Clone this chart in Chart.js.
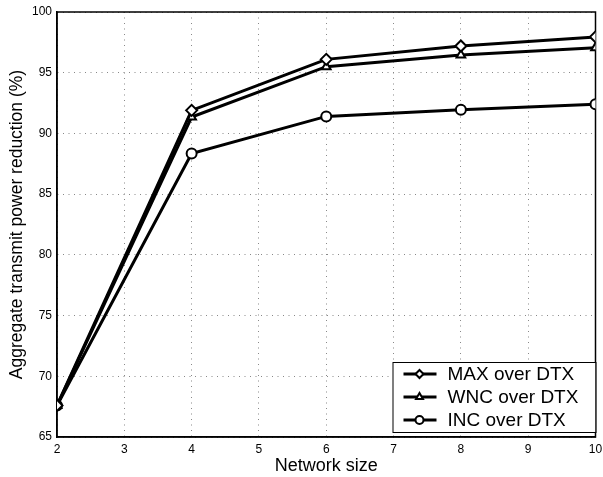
<!DOCTYPE html>
<html>
<head>
<meta charset="utf-8">
<script src="https://cdn.jsdelivr.net/npm/chart.js@4/dist/chart.umd.min.js"></script>
<style>
  html, body { margin: 0; padding: 0; background: #fff; }
  #wrap { width: 603px; height: 477px; }
</style>
</head>
<body>
<div id="wrap"><canvas id="chart" width="603" height="477"></canvas></div>
<script>
const networkSize = [2, 4, 6, 8, 10];
const maxOverDtx = [67.6, 91.9, 96.1, 97.2, 97.95];
const wncOverDtx = [67.6, 91.35, 95.5, 96.45, 97.05];
const incOverDtx = [67.6, 88.35, 91.4, 91.95, 92.4];
const seriesNames = ["MAX over DTX", "WNC over DTX", "INC over DTX"];
const markers = ["rectRot", "triangle", "circle"];

const font = "Liberation Sans, Arial, Helvetica, sans-serif";

function toPoints(vals) {
  return networkSize.map((x, i) => ({ x: x, y: vals[i] }));
}

function series(name, vals, marker) {
  return {
    label: name,
    data: toPoints(vals),
    borderColor: "#000",
    borderWidth: 3,
    pointStyle: marker,
    pointRadius: marker === "rectRot" ? 5.5 : 5,
    pointBorderWidth: 2,
    pointBackgroundColor: "#fff",
    pointBorderColor: "#000",
    tension: 0,
  };
}

// MATLAB-style boxed legend in the lower right corner
const boxLegend = {
  id: "boxLegend",
  afterDraw(chart) {
    const ctx = chart.ctx;
    const a = chart.chartArea;
    const w = 203, h = 70;
    const x0 = a.right - w, y0 = a.bottom - h - 5;
    ctx.save();
    ctx.fillStyle = "#fff";
    ctx.fillRect(x0, y0, w, h);
    ctx.strokeStyle = "#000";
    ctx.lineWidth = 1;
    ctx.strokeRect(x0 + 0.5, y0 + 0.5, w, h);
    ctx.font = "19px " + font;
    ctx.textBaseline = "middle";
    chart.data.datasets.forEach((ds, i) => {
      const y = y0 + 12 + i * 23;
      ctx.strokeStyle = "#000";
      ctx.lineWidth = 3;
      ctx.beginPath();
      ctx.moveTo(x0 + 11, y);
      ctx.lineTo(x0 + 44, y);
      ctx.stroke();
      ctx.fillStyle = "#fff";
      ctx.strokeStyle = "#000";
      ctx.lineWidth = 2;
      Chart.helpers.drawPoint(ctx, { pointStyle: ds.pointStyle, radius: 4, borderWidth: 2, rotation: 0 }, x0 + 27, y);
      ctx.fillStyle = "#000";
      ctx.fillText(ds.label, x0 + 55, y + 1);
    });
    ctx.restore();
  }
};

new Chart(document.getElementById("chart"), {
  type: "line",
  data: {
    datasets: [
      series(seriesNames[0], maxOverDtx, markers[0]),
      series(seriesNames[1], wncOverDtx, markers[1]),
      series(seriesNames[2], incOverDtx, markers[2]),
    ],
  },
  options: {
    responsive: false,
    animation: false,
    layout: { padding: { top: 12, right: 3, left: 7, bottom: 0 } },
    plugins: { legend: { display: false }, tooltip: { enabled: false } },
    scales: {
      x: {
        type: "linear",
        min: 2,
        max: 10,
        ticks: { stepSize: 1, color: "#000", font: { family: font, size: 12 }, padding: 5 },
        grid: { color: "#888", lineWidth: 1, drawTicks: false },
        border: { color: "#000", width: 1.5, dash: [1, 4.5] },
        title: { display: true, text: "Network size", color: "#000", font: { family: font, size: 18 }, padding: { top: 0, bottom: 0 } },
        afterFit(scale) {
          scale.height = 40;
          scale.paddingRight = 0;
          scale.paddingLeft = 0;
        },
      },
      y: {
        min: 65,
        max: 100,
        ticks: { stepSize: 5, color: "#000", font: { family: font, size: 12 }, padding: 5 },
        grid: { color: "#888", lineWidth: 1, drawTicks: false },
        border: { color: "#000", width: 1.5, dash: [1, 4.5] },
        title: { display: true, text: "Aggregate transmit power reduction (%)", color: "#000", font: { family: font, size: 17.5 }, padding: { top: 0, bottom: 0 } },
        afterFit(scale) {
          scale.width = 50;
          scale.paddingTop = 0;
          scale.paddingBottom = 0;
        },
      },
    },
  },
  plugins: [boxLegend, {
    id: "frame",
    beforeDatasetsDraw(chart) {
      const a = chart.chartArea, ctx = chart.ctx;
      ctx.save();
      ctx.strokeStyle = "#000";
      ctx.lineWidth = 1.5;
      ctx.setLineDash([]);
      ctx.strokeRect(a.left, a.top, a.right - a.left, a.bottom - a.top);
      ctx.restore();
    }
  }],
});
</script>
</body>
</html>
